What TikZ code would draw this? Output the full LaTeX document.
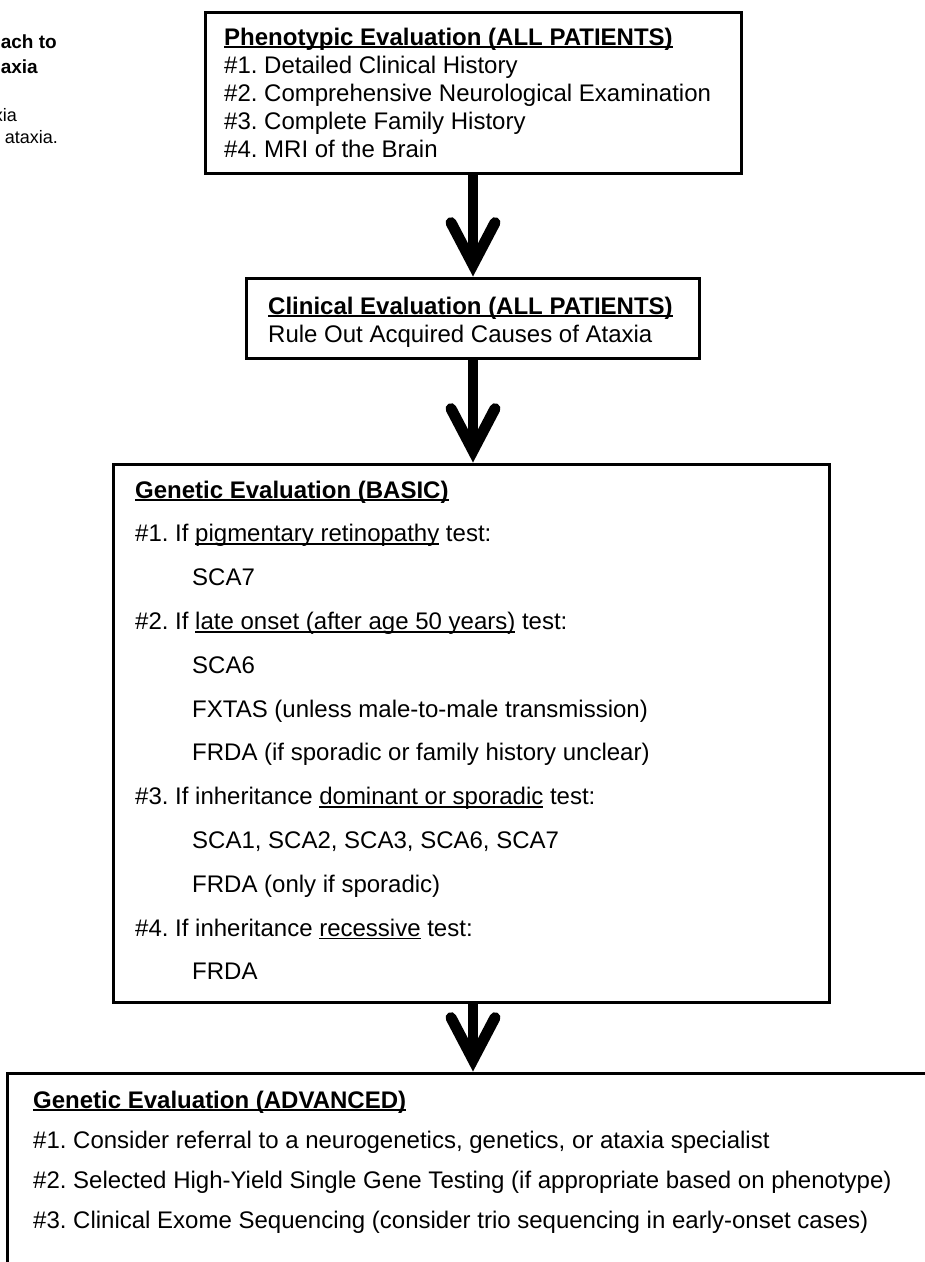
\documentclass[tikz,border=0pt]{standalone}
\usepackage{fontspec}
\setmainfont{Liberation Sans}
\usetikzlibrary{arrows.meta}
\frenchspacing
\newcommand{\uln}[2][1.6pt]{\setbox0\hbox{#2}\rlap{\rule[-3.2pt]{\wd0}{#1}}\box0\relax}
\tikzset{
  box/.style={draw, line width=3pt, inner sep=0pt},
  txt/.style={anchor=base west, inner sep=0pt, font=\fontsize{24}{28}\selectfont},
  hd/.style={txt, font=\bfseries\fontsize{24}{28}\selectfont},
  frag/.style={anchor=base east, inner sep=0pt, font=\fontsize{18}{22}\selectfont},
  bigarrow/.style={line width=10pt, -{Straight Barb[length=42pt, width=44pt, line width=11pt, line cap=round, line join=miter]}}
}
\begin{document}
\begin{tikzpicture}[x=1pt,y=-1pt]
\useasboundingbox (0,0) rectangle (925,1262);
\clip (0,0) rectangle (925,1262);
% caption, cut off at the left
\node[frag, font=\bfseries\fontsize{19}{22}\selectfont] at (57,48) (cap1) {ach to};
\node[frag, font=\bfseries\fontsize{19}{22}\selectfont] at (38,73) (cap2) {axia};
\node[frag] at (17,121) (cap3) {xia};
\node[frag] at (58,143) (cap4) {ataxia.};
% boxes
\node[box, minimum width=536pt, minimum height=161pt] at (473,92.5) (phen) {};
\node[box, minimum width=453pt, minimum height=80pt] at (473,318) (clin) {};
\node[box, minimum width=716pt, minimum height=538pt] at (471,733) (basic) {};
\node[box, minimum width=953pt, minimum height=227pt] at (483.5,1186.5) (adv) {};
% arrows
\draw[bigarrow] (phen.south) -- (phen.south |- clin.north);
\draw[bigarrow] (clin.south) -- (clin.south |- basic.north);
\draw[bigarrow] (clin.south |- basic.south) -- (clin.south |- adv.north);
% phenotypic
\node[hd] at (224,45) (p0) {\uln[2.4pt]{Phenotypic Evaluation (ALL PATIENTS)}};
\node[txt] at (224,73) (p1) {\#1. Detailed Clinical History};
\node[txt] at (224,101) (p2) {\#2. Comprehensive Neurological Examination};
\node[txt] at (224,129) (p3) {\#3. Complete Family History};
\node[txt] at (224,157) (p4) {\#4. MRI of the Brain};
% clinical
\node[hd] at (268,314) (c0) {\uln[2.4pt]{Clinical Evaluation (ALL PATIENTS)}};
\node[txt] at (268,342) (c1) {Rule Out Acquired Causes of Ataxia};
% genetic, basic
\node[hd] at (135,498) (b0) {\uln[2.4pt]{Genetic Evaluation (BASIC)}};
\node[txt] at (135,541.8) (b1) {\#1. If \uln{pigmentary retinopathy} test:};
\node[txt] at (192,585.6) (b2) {SCA7};
\node[txt] at (135,629.4) (b3) {\#2. If \uln{late onset (after age 50 years)} test:};
\node[txt] at (192,673.2) (b4) {SCA6};
\node[txt] at (192,717) (b5) {FXTAS (unless male-to-male transmission)};
\node[txt] at (192,760.8) (b6) {FRDA (if sporadic or family history unclear)};
\node[txt] at (135,804.6) (b7) {\#3. If inheritance \uln{dominant or sporadic} test:};
\node[txt] at (192,848.4) (b8) {SCA1, SCA2, SCA3, SCA6, SCA7};
\node[txt] at (192,892.2) (b9) {FRDA (only if sporadic)};
\node[txt] at (135,936) (b10) {\#4. If inheritance \uln{recessive} test:};
\node[txt] at (192,979.8) (b11) {FRDA};
% genetic, advanced
\node[hd] at (33,1108) (a0) {\uln[2.4pt]{Genetic Evaluation (ADVANCED)}};
\node[txt] at (33,1148) (a1) {\#1. Consider referral to a neurogenetics, genetics, or ataxia specialist};
\node[txt] at (33,1188) (a2) {\#2. Selected High-Yield Single Gene Testing (if appropriate based on phenotype)};
\node[txt] at (33,1228) (a3) {\#3. Clinical Exome Sequencing (consider trio sequencing in early-onset cases)};
\end{tikzpicture}
\end{document}
